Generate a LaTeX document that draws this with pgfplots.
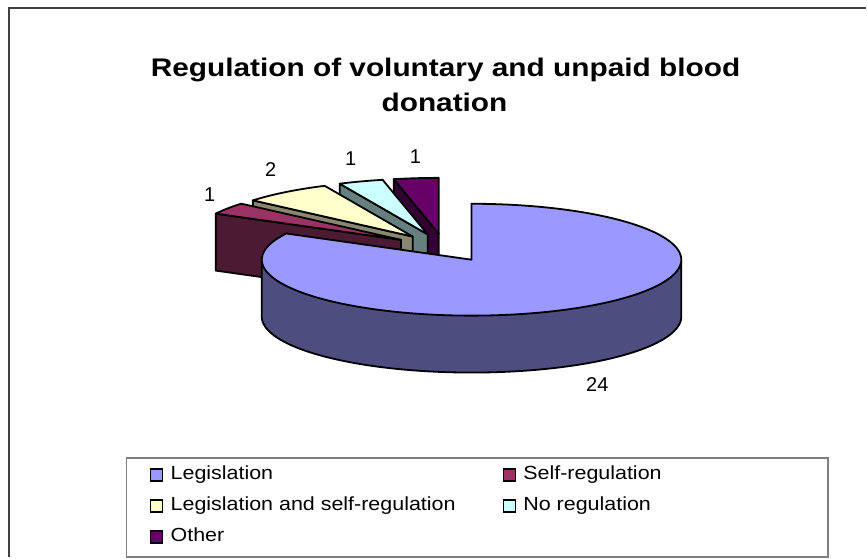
\documentclass[border=0pt]{standalone}
\usepackage{pgfplots}
\pgfplotsset{compat=1.18}
\usepackage{pgfplotstable}
\usepackage{fontspec}
\setmainfont{Liberation Sans}
\newfontfamily\ttlfont[FakeStretch=1.17]{Liberation Sans}
\newfontfamily\lgfont[FakeStretch=1.13]{Liberation Sans}

\definecolor{legtop}{HTML}{9999FF}
\definecolor{legside}{HTML}{4D4D80}
\definecolor{selftop}{HTML}{993366}
\definecolor{selfside}{HTML}{4D1A33}
\definecolor{lstop}{HTML}{FFFFCC}
\definecolor{lsside}{HTML}{888870}
\definecolor{nrtop}{HTML}{CCFFFF}
\definecolor{nrside}{HTML}{668080}
\definecolor{othtop}{HTML}{660066}
\definecolor{othside}{HTML}{330033}
\definecolor{borderc}{HTML}{404040}
\definecolor{legborder}{HTML}{7F7F7F}

% chart data
\pgfplotstableread{
name value
Legislation 24
Self-regulation 1
Legislation-and-self-regulation 2
No-regulation 1
Other 1
}\piedata

\newcommand\getv[2]{\pgfplotstablegetelem{#1}{value}\of\piedata\edef#2{\pgfplotsretval}}
\getv{0}\vA
\getv{1}\vB
\getv{2}\vC
\getv{3}\vD
\getv{4}\vE
\pgfmathsetmacro\T{\vA+\vB+\vC+\vD+\vE}
% slice boundaries (degrees), clockwise from 12 o'clock
\pgfmathsetmacro\bA{90}
\pgfmathsetmacro\bB{\bA-360*\vA/\T}
\pgfmathsetmacro\bC{\bB-360*\vB/\T}
\pgfmathsetmacro\bD{\bC-360*\vC/\T}
\pgfmathsetmacro\bE{\bD-360*\vD/\T}
\pgfmathsetmacro\bF{\bE-360*\vE/\T}

% projection geometry (pixels)
\def\cx{445}
\def\cy{248}
\def\ra{210}
\def\rb{56}
\def\dep{57}
\def\expl{0.25}
\def\lw{1.8bp}

% apex of an exploded slice
\newcommand\apex[2]{%
  \pgfmathsetmacro\px{\cx+\expl*\ra*cos((#1+#2)/2)}%
  \pgfmathsetmacro\py{\cy-\expl*\rb*sin((#1+#2)/2)}}

% small slice: visible radial face at angle hi, then top face
\newcommand\smallslice[4]{% lo hi topcolor sidecolor
  \apex{#1}{#2}%
  \pgfmathsetmacro\ox{\px+\ra*cos(#2)}%
  \pgfmathsetmacro\oy{\py-\rb*sin(#2)}%
  \pgfmathsetmacro\pyh{\py+\dep}%
  \pgfmathsetmacro\oyh{\oy+\dep}%
  \edef\tmp{\noexpand\addplot[fill=#4, draw=black, line width=\lw, line join=round, forget plot]
    coordinates {(\px,\py) (\ox,\oy) (\ox,\oyh) (\px,\pyh)} -- cycle;}\tmp
  \edef\tmp{\noexpand\addplot[fill=#3, draw=black, line width=\lw, line join=round, forget plot,
    domain=#1:#2, samples=16] ({\px+\ra*cos(x)},{\py-\rb*sin(x)}) -- (\px,\py) -- cycle;}\tmp
}

\begin{document}
\begin{tikzpicture}
\begin{axis}[
  at={(0,0)}, anchor=south west,
  width=867bp, height=558bp, scale only axis,
  xmin=0, xmax=867, ymin=0, ymax=558, y dir=reverse,
  hide axis, clip=false,
  legend columns=2,
  legend image code/.code={\draw[#1, line width=1.6bp] (0bp,-2bp) rectangle (12bp,10bp);},
  legend style={
    at={(axis cs:126,458)}, anchor=north west,
    draw=legborder, line width=1.5bp,
    inner xsep=23.25bp, inner ysep=7bp,
    font=\lgfont\fontsize{19bp}{22bp}\selectfont,
    cells={anchor=base west},
    nodes={inner xsep=7.25bp, inner ysep=0bp, text height=14bp, text depth=9bp},
    row sep=8bp,
    /tikz/every even column/.append style={column sep=25bp},
  },
]
\path (axis cs:0,0) rectangle (axis cs:867,558);

% small exploded slices, back to front
\smallslice{\bF}{\bE}{othtop}{othside}
\smallslice{\bE}{\bD}{nrtop}{nrside}
\smallslice{\bD}{\bC}{lstop}{lsside}
\smallslice{\bC}{\bB}{selftop}{selfside}

% large slice: front curved side, then top face
\apex{\bB}{\bA}
\pgfmathsetmacro\pxL{\px-\ra}
\pgfmathsetmacro\pxR{\px+\ra}
\pgfmathsetmacro\pyd{\py+\dep}
\edef\tmp{\noexpand\addplot[fill=legside, draw=black, line width=\lw, line join=round, forget plot,
  domain=-180:0, samples=120] ({\px+\ra*cos(x)},{\pyd-\rb*sin(x)}) -- (\pxR,\py) -- (\pxL,\py) -- cycle;}\tmp
\edef\tmp{\noexpand\addplot[fill=legtop, draw=black, line width=\lw, line join=round, forget plot,
  domain=\bB:\bA, samples=150] ({\px+\ra*cos(x)},{\py-\rb*sin(x)}) -- (\px,\py) -- cycle;}\tmp

% legend
\addlegendimage{fill=legtop, draw=black}
\addlegendentry{\makebox[300bp][l]{Legislation}}
\addlegendimage{fill=selftop, draw=black}
\addlegendentry{\makebox[274.5bp][l]{Self-regulation}}
\addlegendimage{fill=lstop, draw=black}
\addlegendentry{\makebox[300bp][l]{Legislation and self-regulation}}
\addlegendimage{fill=nrtop, draw=black}
\addlegendentry{\makebox[274.5bp][l]{No regulation}}
\addlegendimage{fill=othtop, draw=black}
\addlegendentry{\makebox[300bp][l]{Other}}

% title
\node[anchor=base, font=\ttlfont\bfseries\fontsize{25.5bp}{30bp}\selectfont] at (axis cs:446,77) {Regulation of voluntary and unpaid blood};
\node[anchor=base, font=\ttlfont\bfseries\fontsize{25.5bp}{30bp}\selectfont] at (axis cs:445,112) {donation};

% data labels
\node[anchor=base, font=\fontsize{20bp}{24bp}\selectfont] at (axis cs:598,392) {24};
\node[anchor=base, font=\fontsize{20bp}{24bp}\selectfont] at (axis cs:210,202) {1};
\node[anchor=base, font=\fontsize{20bp}{24bp}\selectfont] at (axis cs:271,177) {2};
\node[anchor=base, font=\fontsize{20bp}{24bp}\selectfont] at (axis cs:351,166) {1};
\node[anchor=base, font=\fontsize{20bp}{24bp}\selectfont] at (axis cs:416,164) {1};

% chart border
\draw[line width=2bp, color=borderc] (axis cs:9.5,558) -- (axis cs:9.5,8.5) -- (axis cs:867,8.5);
\end{axis}
\end{tikzpicture}
\end{document}
